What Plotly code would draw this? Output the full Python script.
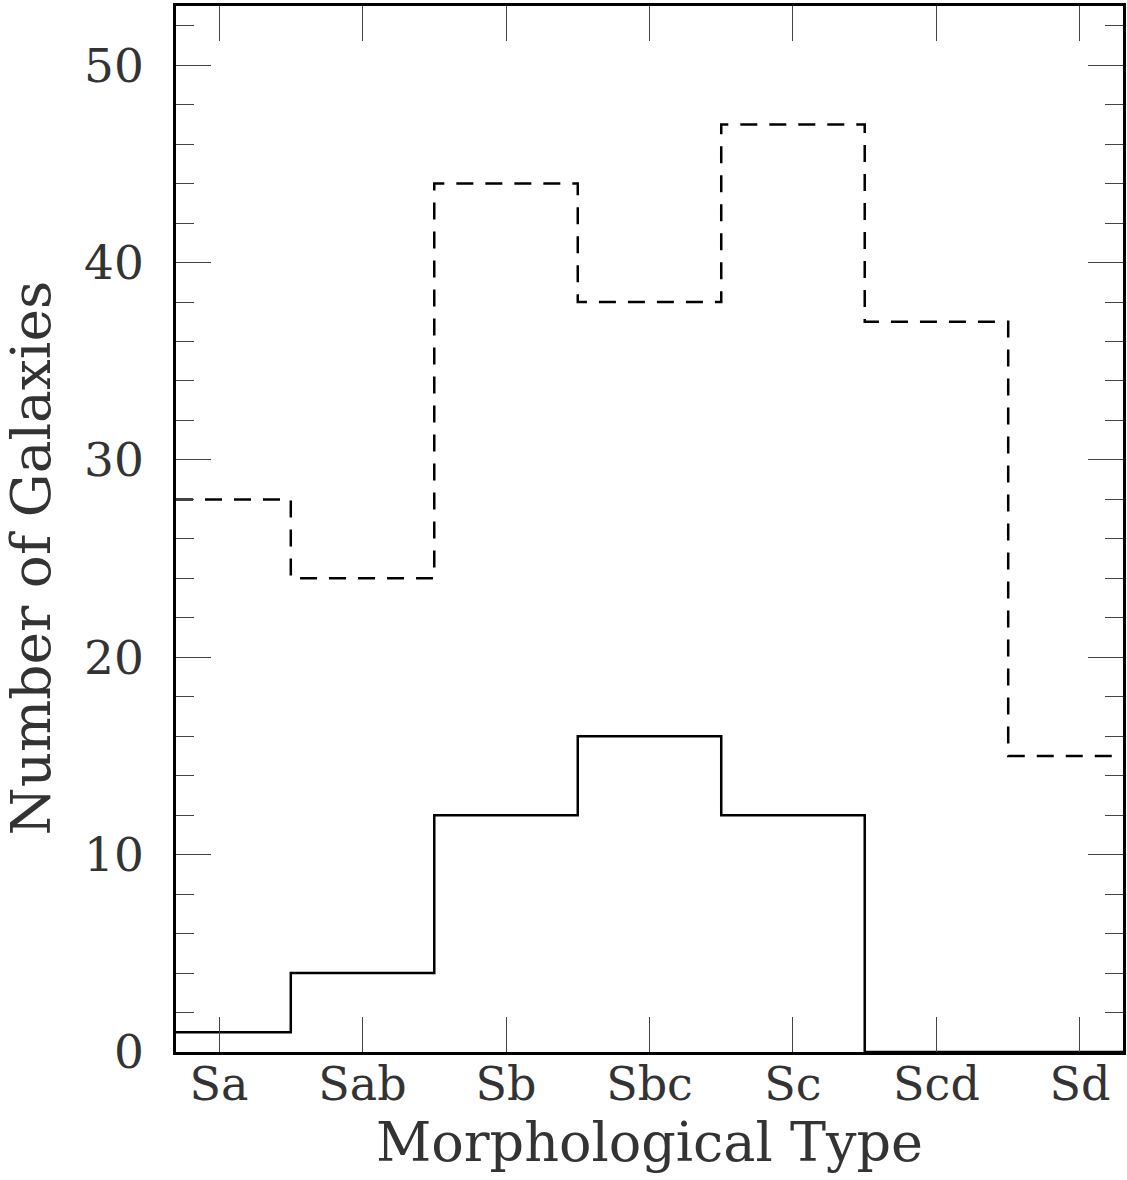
import plotly.graph_objects as go

categories = ["Sa", "Sab", "Sb", "Sbc", "Sc", "Scd", "Sd"]
total_counts = [28, 24, 44, 38, 47, 37, 15]      # dashed histogram
detected_counts = [1, 4, 12, 16, 12, 0, 0]       # solid histogram
y_tick_vals = [0, 10, 20, 30, 40, 50]

x_min, x_max = 0.7, 7.3
y_min, y_max = 0, 53

pos = list(range(1, len(categories) + 1))


def step_xy(counts):
    xs = [x_min] + [p + 0.5 for p in pos[:-1]] + [x_max]
    ys = list(counts) + [counts[-1]]
    return xs, ys


FONT = "DejaVu Serif"
TXT = "#333333"

W, H = 1127, 1180
ML, MR, MT, MB = 176, 1, 6, 128
plot_w = W - ML - MR
plot_h = H - MT - MB

fig = go.Figure()
xd, yd = step_xy(total_counts)
fig.add_trace(go.Scatter(x=xd, y=yd, mode="lines", line_shape="hv",
                         line=dict(color="black", width=2.5, dash="17px,12px"),
                         showlegend=False, hoverinfo="skip"))
xs, ys = step_xy(detected_counts)
fig.add_trace(go.Scatter(x=xs, y=ys, mode="lines", line_shape="hv",
                         line=dict(color="black", width=2.5),
                         showlegend=False, hoverinfo="skip"))

fig.update_layout(
    width=W, height=H,
    margin=dict(l=ML, r=MR, t=MT, b=MB),
    paper_bgcolor="white", plot_bgcolor="white",
    font=dict(family=FONT, color=TXT),
    annotations=[dict(
        text="Number of Galaxies", textangle=-90, showarrow=False,
        xref="paper", yref="paper",
        x=(31 - ML) / plot_w, y=(H - MB - 558) / plot_h,
        xanchor="center", yanchor="middle",
        font=dict(family=FONT, size=55, color=TXT),
    )],
)
fig.update_xaxes(
    range=[x_min, x_max], tickvals=pos, ticktext=categories,
    ticks="inside", ticklen=35, tickwidth=1, tickcolor="#444",
    showline=True, linecolor="black", linewidth=2.5, mirror="allticks",
    showgrid=False, zeroline=False,
    ticklabelstandoff=-10,
    tickfont=dict(family=FONT, size=46, color=TXT),
    title=dict(text="Morphological Type", font=dict(family=FONT, size=54, color=TXT), standoff=10),
)
fig.update_yaxes(
    range=[y_min, y_max], tickvals=y_tick_vals,
    ticks="inside", ticklen=35, tickwidth=1, tickcolor="#444",
    minor=dict(dtick=2, tick0=0, ticks="inside", ticklen=18, tickwidth=1, tickcolor="#444"),
    showline=True, linecolor="black", linewidth=2.5, mirror="allticks",
    showgrid=False, zeroline=False,
    ticklabelstandoff=20,
    tickfont=dict(family=FONT, size=47, color=TXT),
)

fig.write_html("out.html")
